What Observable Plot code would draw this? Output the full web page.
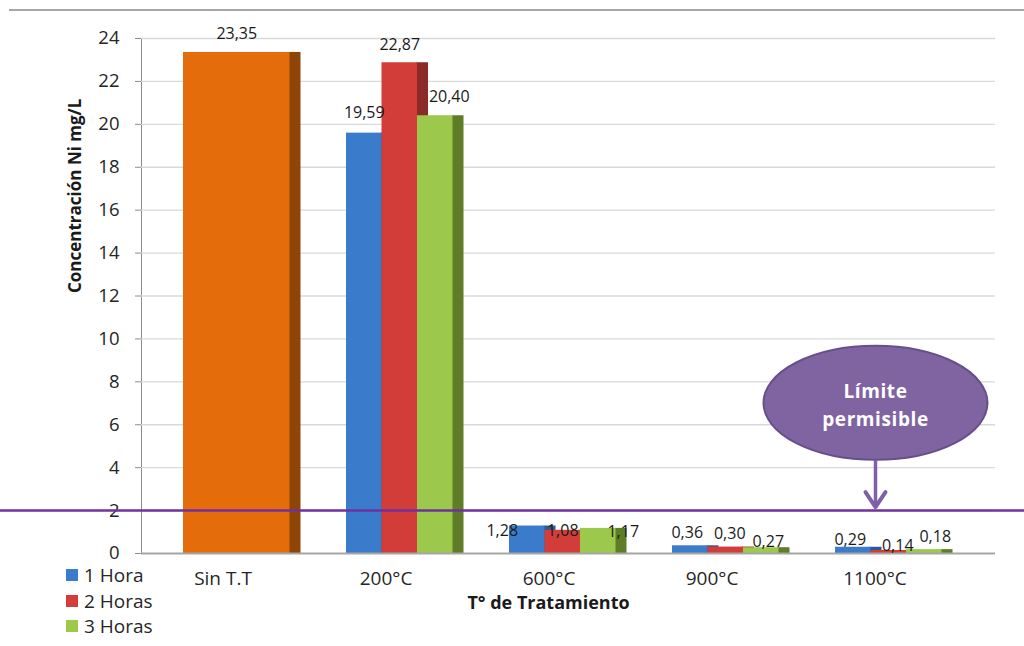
<!DOCTYPE html>
<html>
<head>
<meta charset="utf-8">
<script src="https://cdn.jsdelivr.net/npm/d3@7"></script>
<script src="https://cdn.jsdelivr.net/npm/@observablehq/plot@0.6"></script>
<style>
  html, body { margin: 0; padding: 0; background: #fff; }
  #wrap { position: relative; width: 1024px; height: 646px; overflow: hidden; font-family: "Open Sans", Lato, sans-serif; }
  #topline { position: absolute; left: 9px; top: 9px; width: 1015px; height: 2px; background: #a6a6a6; }
  #chart { position: absolute; left: 0; top: 0; }
  #legend { position: absolute; left: 66px; top: 566px; font-size: 19px; color: #262626; }
  #legend .item { display: flex; align-items: center; height: 18px; margin-bottom: 7.5px; }
  #legend .item span { display: inline-block; line-height: 18px; height: 18px; }
  #legend .sw { width: 12px; height: 12px; margin-right: 6px; }
  g[aria-label^="y-axis"] text, g[aria-label^="x-axis"] text { fill: #262626; }
  g[aria-label^="y-axis"] text { font-size: 18.5px; }
</style>
</head>
<body>
<div id="wrap">
  <div id="topline"></div>
  <div id="chart"></div>
  <div id="legend"></div>
</div>
<script>
// Nickel concentration (mg/L) by treatment temperature and treatment time
const categories = ["Sin T.T", "200°C", "600°C", "900°C", "1100°C"];
const treatedCategories = ["200°C", "600°C", "900°C", "1100°C"];
const seriesNames = ["1 Hora", "2 Horas", "3 Horas"];
const sinTratamiento = 23.35;
const hora1 = [19.59, 1.28, 0.36, 0.29];
const hora2 = [22.87, 1.08, 0.30, 0.14];
const hora3 = [20.40, 1.17, 0.27, 0.18];
const yTicks = [0, 2, 4, 6, 8, 10, 12, 14, 16, 18, 20, 22, 24];
const limitePermisible = 2;

// Styling
const faceColors = ["#3B7BCB", "#D23D3A", "#9CC84B"];
const sideColors = ["#2A5A97", "#8C2A28", "#5F7D27"];
const orangeFace = "#E46C0A";
const orangeSide = "#8F4508";
const purple = "#7030A0";
const font = "'Open Sans', Lato, sans-serif";

// Per-label nudges [dx, dy] in px (relative to the bar face centre and bar top)
const labelNudge = [
  [[0, -20], [-25, 5], [-3, -13], [-3, -7]],
  [[0, -18], [0, 1], [4, -13], [9, -5]],
  [[14, -19], [25, 3], [7, -6], [11, -13]]
];

const W = 1024, H = 646;
const mLeft = 141, mTop = 38, mBottom = 93, mRight = 29;
const step = 163;              // width of one category band
const groupStart = 42;         // offset of the first bar within its band
const barW = 35.5;             // width of one bar face
const depth = 11;              // visible depth of the 3D side face

const fmt = v => d3.format(".2f")(v).replace(".", ",");
const seriesValues = [hora1, hora2, hora3];
const rowsOf = vals => treatedCategories.map((c, j) => ({cat: c, v: vals[j]}));

const marks = [];
// Horizontal gridlines
marks.push(Plot.ruleY(yTicks.filter(d => d > 0), {stroke: "#d9d9d9", strokeWidth: 1.3}));

// Untreated sample: a single wide bar
const sinRow = [{cat: "Sin T.T", v: sinTratamiento}];
marks.push(Plot.barY(sinRow, {
  x: "cat", y: "v", fill: orangeSide,
  insetLeft: groupStart + 3 * barW - 1, insetRight: step - groupStart - 3 * barW - depth
}));
marks.push(Plot.barY(sinRow, {
  x: "cat", y: "v", fill: orangeFace,
  insetLeft: groupStart, insetRight: step - groupStart - 3 * barW
}));

// Treated samples: three clustered bars with a darker side face
seriesValues.forEach((vals, i) => {
  const rows = rowsOf(vals);
  marks.push(Plot.barY(rows, {
    x: "cat", y: "v", fill: sideColors[i],
    insetLeft: groupStart + (i + 1) * barW - 1, insetRight: step - groupStart - (i + 1) * barW - depth
  }));
  marks.push(Plot.barY(rows, {
    x: "cat", y: "v", fill: faceColors[i],
    insetLeft: groupStart + i * barW, insetRight: step - groupStart - (i + 1) * barW
  }));
});

// Baseline
marks.push(Plot.ruleY([0], {stroke: "#a6a6a6", strokeWidth: 2}));

// Permissible limit line across the full width
marks.push(Plot.ruleY([limitePermisible], {stroke: purple, strokeWidth: 2.5, insetLeft: -mLeft, insetRight: -mRight}));

// Value labels
const bandCentre = step / 2;
marks.push(Plot.text(sinRow, {
  x: "cat", y: "v", text: d => fmt(d.v),
  dx: groupStart + 1.5 * barW - bandCentre, dy: -19,
  fontSize: 16, fill: "#1a1a1a"
}));
seriesValues.forEach((vals, i) => {
  rowsOf(vals).forEach((row, j) => {
    const [ndx, ndy] = labelNudge[i][j];
    marks.push(Plot.text([row], {
      x: "cat", y: "v", text: d => fmt(d.v),
      dx: groupStart + (i + 0.5) * barW - bandCentre + ndx, dy: ndy,
      fontSize: 16, fill: "#1a1a1a"
    }));
  });
});

// Axis titles
marks.push(Plot.text(["Concentración Ni mg/L"], {
  text: d => d, frameAnchor: "left", rotate: -90, dx: -66, dy: -3,
  fontSize: 17, fontWeight: "bold", fill: "#1a1a1a"
}));
marks.push(Plot.text(["T° de Tratamiento"], {
  text: d => d, frameAnchor: "bottom", dx: -20, dy: 55,
  fontSize: 18, fontWeight: "bold", fill: "#1a1a1a"
}));

const chart = Plot.plot({
  width: W, height: H,
  marginLeft: mLeft, marginTop: mTop, marginBottom: mBottom, marginRight: mRight,
  style: {fontFamily: font, fontSize: "19px", color: "#8c8c8c", background: "transparent", overflow: "visible"},
  x: {type: "band", domain: categories, range: [mLeft, mLeft + step * categories.length], padding: 0, tickSize: 0, tickPadding: 18, label: null},
  y: {domain: [0, 24], ticks: yTicks, tickSize: 6, tickPadding: 16, line: true, label: null},
  marks
});
document.getElementById("chart").appendChild(chart);

// "Límite permisible" callout, positioned through the chart's scales
const sx = chart.scale("x"), sy = chart.scale("y");
const xs = d3.scaleBand(sx.domain, sx.range).padding(0);
const ys = d3.scaleLinear(sy.domain, sy.range);
const svg = d3.select(chart);
const cx = xs("1100°C") + xs.bandwidth() / 2 + 1;
const cy = ys(7);
const rx = 112, ry = 57;
const g = svg.append("g").attr("font-family", font);
g.append("ellipse")
  .attr("cx", cx).attr("cy", cy).attr("rx", rx).attr("ry", ry)
  .attr("fill", "#8064A2").attr("stroke", "#66508a").attr("stroke-width", 2);
g.append("text").attr("x", cx).attr("y", cy - 5).attr("text-anchor", "middle")
  .attr("fill", "#fff").attr("font-weight", "bold").attr("font-size", 19).attr("letter-spacing", 0.6).text("Límite");
g.append("text").attr("x", cx).attr("y", cy + 23).attr("text-anchor", "middle")
  .attr("fill", "#fff").attr("font-weight", "bold").attr("font-size", 19).attr("letter-spacing", 0.6).text("permisible");
const tipY = ys(limitePermisible) - 1;
g.append("line")
  .attr("x1", cx).attr("x2", cx).attr("y1", cy + ry).attr("y2", tipY - 2)
  .attr("stroke", "#7F60A8").attr("stroke-width", 3.5);
g.append("path")
  .attr("d", `M${cx - 10},${tipY - 17}L${cx},${tipY - 2}L${cx + 10},${tipY - 17}`)
  .attr("fill", "none").attr("stroke", "#7F60A8").attr("stroke-width", 4)
  .attr("stroke-linejoin", "round").attr("stroke-linecap", "round");

// Legend
const legend = d3.select("#legend");
seriesNames.forEach((name, i) => {
  const item = legend.append("div").attr("class", "item");
  item.append("div").attr("class", "sw").style("background", faceColors[i]);
  item.append("span").text(name);
});
</script>
</body>
</html>
